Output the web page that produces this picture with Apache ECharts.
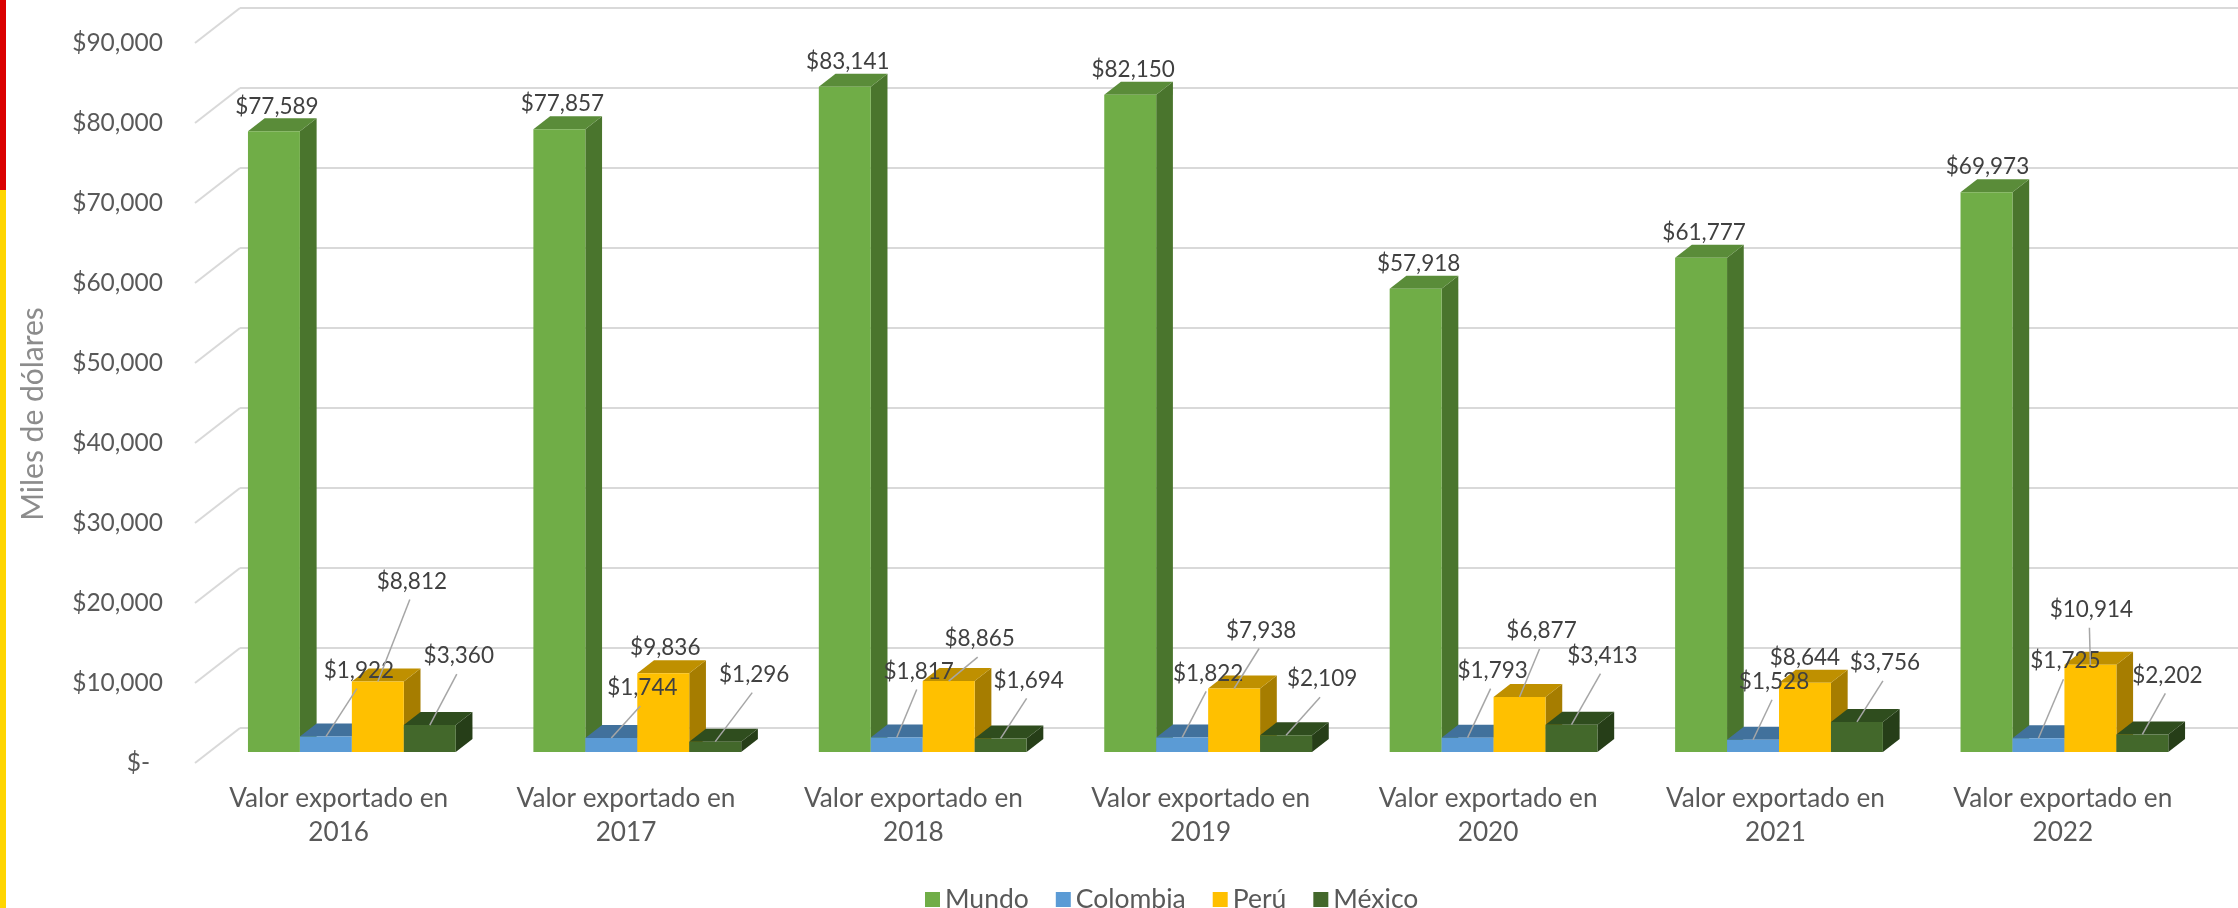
<!DOCTYPE html>
<html><head><meta charset="utf-8">
<script src="https://cdn.jsdelivr.net/npm/echarts@6/dist/echarts.min.js"></script>
<style>html,body{margin:0;padding:0;background:#fff}#c{width:2238px;height:908px}</style>
</head><body><div id="c"></div>
<script>
// ---------------- data ----------------
const categories = [
  'Valor exportado en\n2016', 'Valor exportado en\n2017', 'Valor exportado en\n2018',
  'Valor exportado en\n2019', 'Valor exportado en\n2020', 'Valor exportado en\n2021',
  'Valor exportado en\n2022'
];
const seriesNames = ['Mundo', 'Colombia', 'Perú', 'México'];
const mundo    = [77589, 77857, 83141, 82150, 57918, 61777, 69973];
const colombia = [1922, 1744, 1817, 1822, 1793, 1528, 1725];
const peru     = [8812, 9836, 8865, 7938, 6877, 8644, 10914];
const mexico   = [3360, 1296, 1694, 2109, 3413, 3756, 2202];
const yTicks   = [0, 10000, 20000, 30000, 40000, 50000, 60000, 70000, 80000, 90000];

// ---------------- label placement (manual offsets, like the original) ----------------
const nudgeMundo    = [[3,-25],[3,-25],[3,-25],[3,-25],[3,-25],[3,-25],[1,-25]];
const nudgeColombia = [[33,-66],[31,-50],[22,-66],[26,-64],[25,-67],[21,-58],[27,-77]];
const nudgePeru     = [[34,-100],[2,-26],[31,-42],[27,-58],[22,-66],[0,-25],[1,-55]];
const nudgeMexico   = [[29,-69],[39,-67],[28,-58],[36,-56],[31,-69],[28,-59],[25,-59]];

// ---------------- styles ----------------
const FONT = 'Lato, "Open Sans", sans-serif';
const faceColors = [
  { front: '#70AD47', top: '#5A8C39', side: '#4A752D' },
  { front: '#5B9BD5', top: '#41719C', side: '#3A6690' },
  { front: '#FFC000', top: '#BF9000', side: '#A67D00' },
  { front: '#43682B', top: '#2F4D1E', side: '#263E18' }
];
const DEPTH_X = 45, DEPTH_Y = 35;     // side-wall depth
const FRONT_F = 24 / 35;               // bar front plane, fraction of depth from back wall
const BAR_F = 13 / 35;                 // bar depth, fraction of wall depth
const BAR_W = 0.182;                   // bar width as fraction of band

const valueSets = [mundo, colombia, peru, mexico];
const nudges = [nudgeMundo, nudgeColombia, nudgePeru, nudgeMexico];

function barBox(api, cat, s, v) {
  const band = api.size([1, 0])[0];
  const w = band * BAR_W;
  const c = api.coord([cat, v]);
  const c0 = api.coord([cat, 0]);
  const fx = -DEPTH_X * FRONT_F, fy = DEPTH_Y * FRONT_F;
  const L = c[0] + fx - 2 * w + s * w;
  return { L: L, w: w, top: c[1] + fy, bot: c0[1] + fy, dx: DEPTH_X * BAR_F, dy: DEPTH_Y * BAR_F };
}

function makeBarSeries(s) {
  const col = faceColors[s];
  return {
    name: seriesNames[s], type: 'custom', xAxisIndex: 0, yAxisIndex: 0, z: 3,
    itemStyle: { color: col.front },
    encode: { x: 0, y: 1 },
    data: valueSets[s].map((v, i) => [i, v]),
    renderItem: function (params, api) {
      const b = barBox(api, api.value(0), s, api.value(1));
      const R = b.L + b.w;
      return {
        type: 'group',
        children: [
          { type: 'polygon', shape: { points: [[R, b.top], [R + b.dx, b.top - b.dy], [R + b.dx, b.bot - b.dy], [R, b.bot]] },
            style: { fill: col.side } },
          { type: 'polygon', shape: { points: [[b.L, b.top], [R, b.top], [R + b.dx, b.top - b.dy], [b.L + b.dx, b.top - b.dy]] },
            style: { fill: col.top } },
          { type: 'rect', shape: { x: b.L, y: b.top, width: b.w, height: b.bot - b.top },
            style: { fill: col.front } }
        ]
      };
    }
  };
}

function fmtMoney(v) { return '$' + v.toLocaleString('en-US'); }

const labelRows = [];
valueSets.forEach((arr, s) => arr.forEach((v, i) => labelRows.push([i, v, s])));

const labelSeries = {
  name: 'labels', type: 'custom', xAxisIndex: 0, yAxisIndex: 0, z: 10,
  encode: { x: 0, y: 1 },
  data: labelRows,
  renderItem: function (params, api) {
    const cat = api.value(0), v = api.value(1), s = api.value(2);
    const b = barBox(api, cat, s, v);
    const ax = b.L + b.w / 2, ay = b.top;
    const n = nudges[s][cat];
    const lx = ax + n[0], ly = ay + n[1];
    const children = [];
    if (Math.hypot(n[0], n[1]) > 35 && s > 0) {
      children.push({ type: 'line', shape: { x1: lx - 2, y1: ly + 18, x2: ax, y2: ay },
        style: { stroke: '#A6A6A6', lineWidth: 1.5 } });
    }
    children.push({ type: 'text', style: { text: fmtMoney(v), x: lx, y: ly, align: 'center', verticalAlign: 'middle',
      fontSize: 22.5, fontFamily: FONT, fill: '#404040' } });
    return { type: 'group', children: children };
  }
};

const wallSeries = {
  name: 'wall', type: 'custom', xAxisIndex: 0, yAxisIndex: 0, z: 1,
  encode: { x: 0, y: 1 },
  data: yTicks.map(v => [0, v]),
  renderItem: function (params, api) {
    const p = api.coord([0, api.value(1)]);
    const bx = params.coordSys.x;
    return { type: 'line', shape: { x1: bx - DEPTH_X, y1: p[1] + DEPTH_Y, x2: bx, y2: p[1] },
      style: { stroke: '#D9D9D9', lineWidth: 2 } };
  }
};

const chart = echarts.init(document.getElementById('c'));
chart.setOption({
  animation: false,
  backgroundColor: '#ffffff',
  graphic: [
    { type: 'rect', shape: { x: 0, y: 0, width: 6, height: 190 }, style: { fill: '#DA0000' }, z: 100 },
    { type: 'rect', shape: { x: 0, y: 190, width: 6, height: 718 }, style: { fill: '#FFD500' }, z: 100 }
  ],
  grid: [
    { left: 240, top: 8, width: 2011.5, height: 720 },
    { left: 195, top: 43, width: 2011.5, height: 720 }
  ],
  xAxis: [
    { type: 'category', gridIndex: 0, data: categories, axisLine: { show: false }, axisTick: { show: false }, axisLabel: { show: false } },
    { type: 'category', gridIndex: 1, data: categories, axisLine: { show: false }, axisTick: { show: false },
      axisLabel: { interval: 0, margin: 19, fontSize: 26.2, lineHeight: 34, color: '#595959', fontFamily: FONT } }
  ],
  yAxis: [
    { type: 'value', gridIndex: 0, min: 0, max: 90000, interval: 10000,
      axisLine: { show: false }, axisTick: { show: false }, axisLabel: { show: false },
      splitLine: { lineStyle: { color: '#D9D9D9', width: 2 } } },
    { type: 'value', gridIndex: 1, min: 0, max: 90000, interval: 10000,
      axisLine: { show: false }, axisTick: { show: false }, splitLine: { show: false },
      name: 'Miles de dólares', nameLocation: 'middle', nameGap: 147, nameRotate: 90,
      nameTextStyle: { fontSize: 30, color: '#8C8C8C', fontFamily: FONT, padding: [0, 22, 0, 0] },
      axisLabel: { margin: 32, fontSize: 24.5, color: '#595959', fontFamily: FONT,
        formatter: function (v) { return v === 0 ? '{d|$-}' : fmtMoney(v); },
        rich: { d: { fontSize: 24.5, color: '#595959', fontFamily: FONT, padding: [0, 13, 0, 0] } } } }
  ],
  legend: {
    data: seriesNames, left: 920, top: 881, icon: 'rect', itemWidth: 15, itemHeight: 15, itemGap: 27,
    textStyle: { fontSize: 26.5, color: '#595959', fontFamily: FONT }
  },
  series: [wallSeries, makeBarSeries(0), makeBarSeries(1), makeBarSeries(2), makeBarSeries(3), labelSeries]
});
</script>
</body></html>
